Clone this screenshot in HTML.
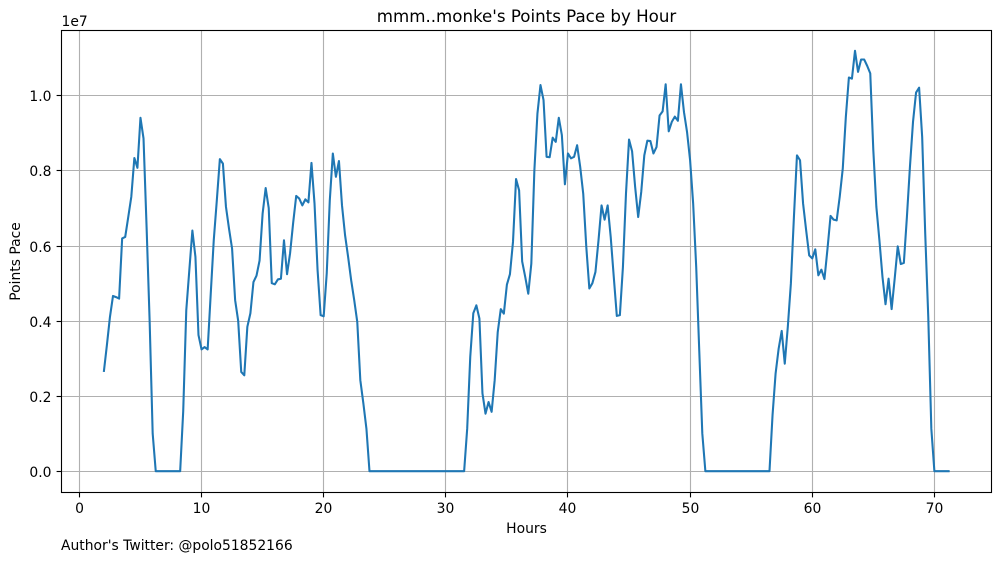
<!DOCTYPE html>
<html lang="en">
<head>
<meta charset="utf-8">
<title>mmm..monke's Points Pace by Hour</title>
<style>
html,body{margin:0;padding:0;background:#fff;width:1001px;height:562px;overflow:hidden}
svg{display:block}
text{font-family:"DejaVu Sans","Liberation Sans",sans-serif;fill:#000}
</style>
</head>
<body>
<svg id="chart" xmlns="http://www.w3.org/2000/svg" width="1001" height="562" viewBox="0 0 1001 562">
  <rect x="0" y="0" width="1001" height="562" fill="#fff"/>
  <g id="grid"></g>
  <polyline id="series" fill="none" stroke="#1f77b4" stroke-width="2.08" stroke-linejoin="round" stroke-linecap="butt"/>
  <rect x="61.5" y="30.5" width="930" height="462" fill="none" stroke="#000" stroke-width="1.11"/>
  <g id="ticks"></g>
  <text x="526.5" y="22" font-size="16.67" text-anchor="middle">mmm..monke's Points Pace by Hour</text>
  <text x="526.5" y="533" font-size="13.89" text-anchor="middle">Hours</text>
  <text x="20" y="261.5" font-size="13.89" text-anchor="middle" transform="rotate(-90 20 261.5)">Points Pace</text>
  <text x="61.5" y="26" font-size="13.89">1e7</text>
  <text x="61" y="550" font-size="13.89">Author's Twitter: @polo51852166</text>
</svg>
<script>
const xTicks = [0, 10, 20, 30, 40, 50, 60, 70];
const xTickLabels = ['0', '10', '20', '30', '40', '50', '60', '70'];
const yTicks = [0, 0.2, 0.4, 0.6, 0.8, 1.0];
const yTickLabels = ['0.0', '0.2', '0.4', '0.6', '0.8', '1.0'];
const firstHour = 2;
const hourStep = 0.25;
const pointsPace = [
  0.264, 0.335, 0.41, 0.466, 0.463, 0.459, 0.619, 0.623, 0.676, 0.73, 0.833, 0.807, 0.94, 0.885, 0.65, 0.4, 0.1,
  0, 0, 0, 0, 0, 0, 0, 0, 0,
  0.16, 0.428, 0.535, 0.64, 0.57, 0.362, 0.324, 0.33, 0.324, 0.47, 0.614, 0.72,
  0.83, 0.818, 0.703, 0.645, 0.592, 0.455, 0.4, 0.264, 0.255, 0.384, 0.42, 0.503, 0.52, 0.56, 0.685, 0.753, 0.7,
  0.5, 0.497, 0.51, 0.512, 0.614, 0.524, 0.58, 0.66, 0.732, 0.725, 0.707, 0.723, 0.715, 0.82, 0.712, 0.535,
  0.415, 0.412, 0.526, 0.72, 0.845, 0.783, 0.825, 0.707, 0.628, 0.57, 0.508, 0.455, 0.397, 0.242, 0.18, 0.113,
  0, 0, 0, 0, 0, 0, 0, 0, 0, 0, 0, 0, 0, 0, 0, 0,
  0, 0, 0, 0, 0, 0, 0, 0, 0, 0, 0, 0, 0, 0, 0, 0,
  0.113, 0.304, 0.42, 0.441, 0.406, 0.207, 0.153, 0.184, 0.158, 0.242, 0.37, 0.431, 0.419, 0.496, 0.524, 0.61,
  0.777, 0.747, 0.558, 0.517, 0.472, 0.552, 0.8, 0.951, 1.027, 0.987, 0.836, 0.835, 0.887, 0.876, 0.94, 0.894,
  0.763, 0.845, 0.832, 0.836, 0.867, 0.81, 0.738,
  0.597, 0.486, 0.5, 0.53, 0.614, 0.707, 0.669, 0.707, 0.623, 0.517, 0.413, 0.415, 0.543, 0.738, 0.882, 0.851,
  0.756, 0.676, 0.743, 0.84, 0.879, 0.878, 0.845, 0.862, 0.946, 0.957, 1.029, 0.904, 0.929, 0.943, 0.932, 1.029,
  0.955, 0.902, 0.827, 0.712, 0.543, 0.32, 0.1,
  0, 0, 0, 0, 0, 0, 0, 0, 0, 0, 0, 0, 0, 0, 0, 0, 0, 0, 0, 0, 0, 0,
  0.149, 0.26, 0.326, 0.373, 0.286, 0.384, 0.499, 0.676, 0.84, 0.827, 0.712, 0.641, 0.574, 0.566, 0.59, 0.521,
  0.536, 0.511, 0.592, 0.679, 0.669, 0.667, 0.73, 0.805, 0.942, 1.047, 1.044, 1.118, 1.062, 1.095, 1.095, 1.078,
  1.058, 0.854, 0.703, 0.614, 0.517, 0.444, 0.512, 0.431, 0.512, 0.598, 0.551, 0.554, 0.676, 0.81, 0.929, 1.007,
  1.02, 0.889, 0.632, 0.41, 0.113,
  0, 0, 0, 0, 0, 0
];

const SVG_NS = 'http://www.w3.org/2000/svg';
function xScale(hour) { return 79.4 + 12.214 * hour; }
function yScale(value) { return 471.2 - 376 * value; }
function makeLine(x1, y1, x2, y2, color) {
  const line = document.createElementNS(SVG_NS, 'line');
  line.setAttribute('x1', x1);
  line.setAttribute('y1', y1);
  line.setAttribute('x2', x2);
  line.setAttribute('y2', y2);
  line.setAttribute('stroke', color);
  line.setAttribute('stroke-width', '1.11');
  return line;
}
function makeLabel(x, y, anchor, content) {
  const label = document.createElementNS(SVG_NS, 'text');
  label.setAttribute('x', x);
  label.setAttribute('y', y);
  label.setAttribute('font-size', '13.89');
  label.setAttribute('text-anchor', anchor);
  label.textContent = content;
  return label;
}
const gridGroup = document.getElementById('grid');
const tickGroup = document.getElementById('ticks');
xTicks.forEach(function (tick, i) {
  const px = Math.floor(xScale(tick)) + 0.5;
  const gridLine = makeLine(px, 30.5, px, 492.5, '#b0b0b0');
  
  
  gridGroup.appendChild(gridLine);
  const tickMark = makeLine(px, 492.5, px, 497.4, '#000');
  
  
  tickGroup.appendChild(tickMark);
  const tickLabel = makeLabel(px, 513, 'middle', xTickLabels[i]);
  
  
  tickGroup.appendChild(tickLabel);
});
yTicks.forEach(function (tick, i) {
  const py = Math.floor(yScale(tick) + 0.5) + 0.5;
  const gridLine = makeLine(61.5, py, 991.5, py, '#b0b0b0');
  
  
  gridGroup.appendChild(gridLine);
  const tickMark = makeLine(56.6, py, 61.5, py, '#000');
  
  
  tickGroup.appendChild(tickMark);
  const tickLabel = makeLabel(51.5, py + 5.3, 'end', yTickLabels[i]);
  
  
  tickGroup.appendChild(tickLabel);
});
document.getElementById('series').setAttribute('points', pointsPace.map(function (value, i) {
  return xScale(firstHour + i * hourStep).toFixed(2) + ',' + yScale(value).toFixed(2);
}).join(' '));
</script>
</body>
</html>
